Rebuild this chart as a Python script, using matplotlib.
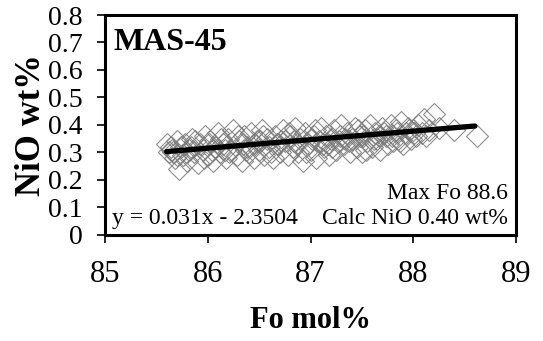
import matplotlib
matplotlib.use("Agg")
import matplotlib.pyplot as plt

plt.rcParams['font.family'] = ['Liberation Serif', 'DejaVu Serif']

# Olivine analyses (Fo mol%, NiO wt%)
fo_a = [85.60, 85.62, 85.65, 85.68, 85.70, 85.72, 85.74, 85.76, 85.78, 85.80,
        85.82, 85.85, 85.87, 85.90, 85.92, 85.95, 85.97, 86.00, 86.02, 86.05,
        86.07, 86.10, 86.12, 86.15, 86.18, 86.20, 86.22, 86.25, 86.28, 86.30,
        86.33, 86.35, 86.38, 86.40, 86.42, 86.45, 86.48, 86.50, 86.53, 86.55,
        86.58, 86.60, 86.63, 86.65, 86.68, 86.70, 86.73, 86.75, 86.78, 86.80,
        86.83, 86.85, 86.88, 86.90, 86.93, 86.95, 86.98, 87.00, 87.03, 87.05,
        87.08, 87.10, 87.13, 87.15, 87.18, 87.20, 87.23, 87.25, 87.28, 87.30,
        87.33, 87.35, 87.38, 87.40, 87.43, 87.45, 87.48, 87.50, 87.53, 87.55,
        87.58, 87.60, 87.63, 87.65, 87.68, 87.70, 87.73, 87.75, 87.78, 87.80,
        87.83, 87.85, 87.88, 87.90, 87.93, 87.95, 87.98, 88.00, 88.03, 88.05,
        88.08, 88.10, 88.15, 88.20, 88.25, 88.40, 88.62]
nio_a = [0.33, 0.30, 0.31, 0.28, 0.34, 0.24, 0.32, 0.29, 0.33, 0.27,
         0.31, 0.35, 0.30, 0.26, 0.33, 0.31, 0.36, 0.29, 0.34, 0.27,
         0.32, 0.37, 0.30, 0.33, 0.28, 0.35, 0.31, 0.38, 0.29, 0.34,
         0.27, 0.36, 0.32, 0.30, 0.37, 0.28, 0.34, 0.31, 0.38, 0.29,
         0.35, 0.32, 0.28, 0.36, 0.33, 0.30, 0.38, 0.34, 0.29, 0.36,
         0.32, 0.39, 0.30, 0.35, 0.27, 0.37, 0.33, 0.31, 0.36, 0.28,
         0.34, 0.39, 0.32, 0.36, 0.29, 0.35, 0.38, 0.31, 0.34, 0.40,
         0.33, 0.37, 0.30, 0.35, 0.39, 0.32, 0.36, 0.30, 0.38, 0.34,
         0.40, 0.32, 0.37, 0.35, 0.31, 0.39, 0.36, 0.33, 0.40, 0.34,
         0.38, 0.35, 0.41, 0.33, 0.37, 0.39, 0.35, 0.38, 0.36, 0.40,
         0.37, 0.42, 0.38, 0.44, 0.39, 0.38, 0.36]
fo_b = [85.64, 85.70, 85.79, 85.88, 85.96, 86.04, 86.13, 86.21, 86.29, 86.37,
        86.46, 86.54, 86.62, 86.71, 86.79, 86.87, 86.96, 87.04, 87.12, 87.21,
        87.29, 87.37, 87.46, 87.54, 87.62, 87.71, 87.79, 87.87, 87.96, 88.12,
        85.66, 85.84, 86.01, 86.17, 86.34, 86.51, 86.67, 86.84, 87.01, 87.17,
        87.34, 87.51, 87.67, 87.84, 88.01]
nio_b = [0.32, 0.29, 0.30, 0.34, 0.28, 0.31, 0.35, 0.30, 0.36, 0.31,
         0.33, 0.36, 0.30, 0.34, 0.37, 0.33, 0.30, 0.38, 0.33, 0.32,
         0.36, 0.34, 0.38, 0.31, 0.35, 0.37, 0.36, 0.34, 0.38, 0.36,
         0.30, 0.32, 0.33, 0.31, 0.33, 0.34, 0.33, 0.34, 0.35, 0.33,
         0.35, 0.36, 0.36, 0.37, 0.37]

# Regression line y = 0.031x - 2.3504 over the data range
fit_slope = 0.031
fit_intercept = -2.3504
fit_x = [85.6, 88.6]

x_ticks = [85, 86, 87, 88, 89]
y_ticks = [0, 0.1, 0.2, 0.3, 0.4, 0.5, 0.6, 0.7, 0.8]
y_ticklabels = ['0', '0.1', '0.2', '0.3', '0.4', '0.5', '0.6', '0.7', '0.8']

fig = plt.figure(figsize=(5.43, 3.41), dpi=100)
ax = fig.add_axes([0.1934, 0.311, 0.757, 0.645])

ax.plot(fo_a + fo_b, nio_a + nio_b, linestyle='none', marker='D', markersize=11,
        markerfacecolor='none', markeredgecolor='#7a7a7a', markeredgewidth=0.8,
        alpha=0.85)
fit_y = [fit_slope * v + fit_intercept for v in fit_x]
ax.plot(fit_x, fit_y, color='black', linewidth=3.8, solid_capstyle='round')

ax.set_xlim(85, 89)
ax.set_ylim(0, 0.8)
ax.set_xticks(x_ticks)
ax.set_xticklabels([str(t) for t in x_ticks], fontsize=22)
ax.set_yticks(y_ticks)
ax.set_yticklabels(y_ticklabels, fontsize=20)
ax.tick_params(axis='both', direction='out', length=6, width=1.2, colors='black')
ax.tick_params(axis='x', pad=12)
ax.tick_params(axis='y', pad=10)
for s in ax.spines.values():
    s.set_linewidth(2.2)
    s.set_color('black')

ax.set_xlabel('Fo mol%', fontsize=22, fontweight='bold', labelpad=12)
ax.set_ylabel('NiO wt%', fontsize=25, fontweight='bold', labelpad=0)

ax.text(0.02, 0.84, 'MAS-45', transform=ax.transAxes, fontsize=23,
        fontweight='bold', ha='left', va='baseline')
ax.text(0.018, 0.05, 'y = 0.031x - 2.3504', transform=ax.transAxes,
        fontsize=17, ha='left', va='baseline')
ax.text(0.98, 0.05, 'Calc NiO 0.40 wt%', transform=ax.transAxes,
        fontsize=17, ha='right', va='baseline')
ax.text(0.98, 0.165, 'Max Fo 88.6', transform=ax.transAxes,
        fontsize=17, ha='right', va='baseline')

fig.savefig('out.png', dpi=100)
